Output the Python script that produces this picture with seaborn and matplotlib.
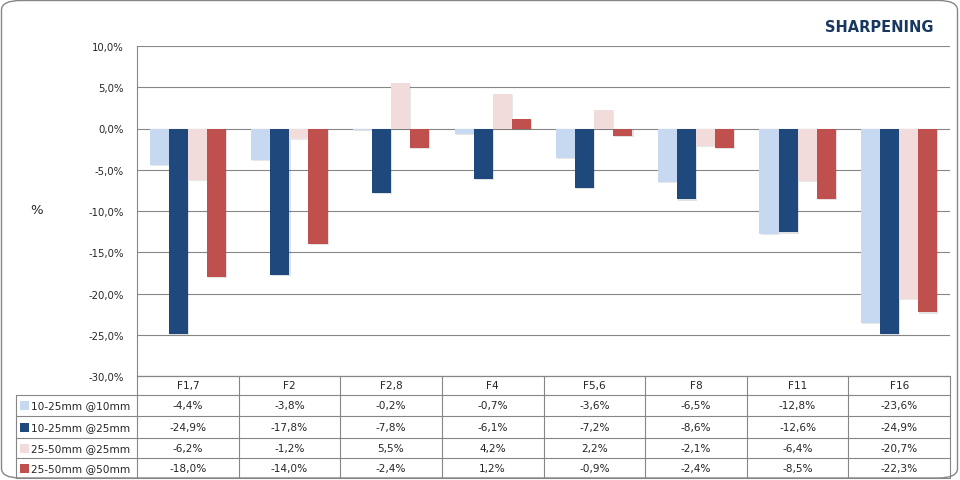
import matplotlib
matplotlib.use("Agg")
import matplotlib.pyplot as plt
import matplotlib.patheffects as pe
from matplotlib.patches import FancyBboxPatch, Rectangle
from matplotlib.lines import Line2D
import seaborn as sns
import pandas as pd

# data
apertures = ["F1,7", "F2", "F2,8", "F4", "F5,6", "F8", "F11", "F16"]
series_names = ["10-25mm @10mm", "10-25mm @25mm", "25-50mm @25mm", "25-50mm @50mm"]
s_10_25_at10 = [-4.4, -3.8, -0.2, -0.7, -3.6, -6.5, -12.8, -23.6]
s_10_25_at25 = [-24.9, -17.8, -7.8, -6.1, -7.2, -8.6, -12.6, -24.9]
s_25_50_at25 = [-6.2, -1.2, 5.5, 4.2, 2.2, -2.1, -6.4, -20.7]
s_25_50_at50 = [-18.0, -14.0, -2.4, 1.2, -0.9, -2.4, -8.5, -22.3]
yticks = [10, 5, 0, -5, -10, -15, -20, -25, -30]

colors = ["#C6D9F1", "#1F497D", "#F2DCDB", "#C0504D"]
grid_c = "#868686"

all_series = [s_10_25_at10, s_10_25_at25, s_25_50_at25, s_25_50_at50]
rows = []
for name, vals in zip(series_names, all_series):
    for ap, v in zip(apertures, vals):
        rows.append({"aperture": ap, "series": name, "value": v})
df = pd.DataFrame(rows)

sns.set_style("white")
plt.rcParams["font.family"] = ["DejaVu Sans"]

W, H = 960, 481
fig = plt.figure(figsize=(W / 100, H / 100), dpi=100)


def fx(x):
    return x / W


def fy(y):
    return 1 - y / H


# plot area in pixel layout
left, right, top, bottom = 137, 950, 47, 377
ax = fig.add_axes([fx(left), fy(bottom), fx(right - left), fy(top) - fy(bottom)])

sns.barplot(data=df, x="aperture", y="value", hue="series", order=apertures,
            hue_order=series_names, palette=colors, width=0.75, saturation=1,
            legend=False, ax=ax, zorder=3)
for p in ax.patches:
    p.set_path_effects([pe.SimplePatchShadow(offset=(0.8, -0.8), alpha=0.12), pe.Normal()])
    p.set_linewidth(0)

ax.set_ylim(-30, 10)
ax.set_xlim(-0.5, len(apertures) - 0.5)
ax.set_yticks(yticks)
ax.set_yticklabels([f"{t:.1f}%".replace(".", ",") for t in yticks], fontsize=7.3)
ax.tick_params(axis="y", length=0, pad=9.5)
ax.set_xticks([])
ax.set_xlabel("")
ax.set_ylabel("")
ax.yaxis.grid(True, color=grid_c, linewidth=0.8, zorder=0)
ax.set_axisbelow(True)
for s in ["top", "right"]:
    ax.spines[s].set_visible(False)
for s in ["left", "bottom"]:
    ax.spines[s].set_color(grid_c)
    ax.spines[s].set_linewidth(0.8)

fig.text(fx(37), fy(211), "%", fontsize=9.5, ha="center", va="center")
fig.text(fx(934), fy(27), "SHARPENING", fontsize=10.5, fontweight="bold",
         color="#17375E", ha="right", va="center")

# data table
row_y = [377, 396, 417, 439, 459, 479]
leg_left = 16
col_w = (right - left) / len(apertures)
lw = 0.8
fs = 7.6


def hline(x0, x1, y):
    fig.add_artist(Line2D([fx(x0), fx(x1)], [fy(y), fy(y)], color=grid_c, lw=lw))


def vline(x, y0, y1):
    fig.add_artist(Line2D([fx(x), fx(x)], [fy(y0), fy(y1)], color=grid_c, lw=lw))


for i, y in enumerate(row_y):
    hline(leg_left if i >= 1 else left, right, y)
for j in range(len(apertures) + 1):
    vline(left + j * col_w, row_y[0], row_y[-1])
vline(leg_left, row_y[1], row_y[-1])

for j, ap in enumerate(apertures):
    fig.text(fx(left + (j + 0.5) * col_w), fy((row_y[0] + row_y[1]) / 2), ap,
             fontsize=fs, ha="center", va="center")

for i, (name, vals) in enumerate(zip(series_names, all_series)):
    yc = (row_y[i + 1] + row_y[i + 2]) / 2
    fig.add_artist(Rectangle((fx(20), fy(yc + 4.5)), fx(9), fy(yc - 4.5) - fy(yc + 4.5),
                             facecolor=colors[i], edgecolor="none"))
    fig.text(fx(31), fy(yc), name, fontsize=fs, ha="left", va="center")
    for j, v in enumerate(vals):
        fig.text(fx(left + (j + 0.5) * col_w), fy(yc), f"{v:.1f}%".replace(".", ","),
                 fontsize=fs, ha="center", va="center")

# outer rounded border
fig.add_artist(FancyBboxPatch((fx(1.5), fy(479)), fx(956), fy(1.5) - fy(479),
                              boxstyle="round,pad=0,rounding_size=0.02",
                              transform=fig.transFigure, facecolor="none",
                              edgecolor=grid_c, lw=1))

fig.savefig("out.png", dpi=100)
